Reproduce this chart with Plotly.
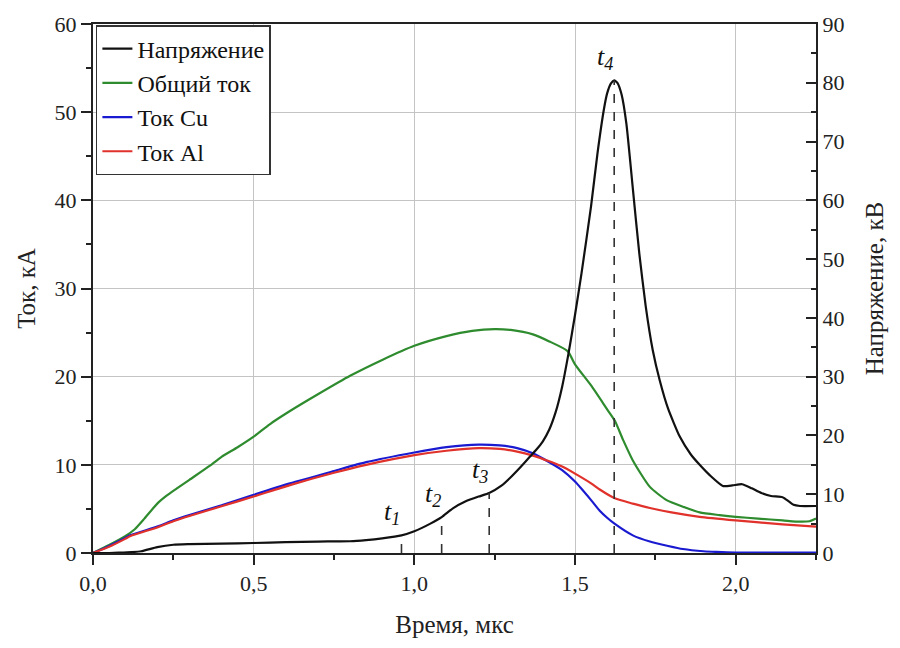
import plotly.graph_objects as go

# ---- data ----
time_voltage = [0, 0.05, 0.08, 0.12, 0.15, 0.2, 0.25, 0.3, 0.4, 0.5, 0.6, 0.7, 0.8, 0.85, 0.9,
                0.96, 1.0, 1.05, 1.085, 1.12, 1.16, 1.2, 1.233, 1.27, 1.3, 1.33, 1.36, 1.38,
                1.4, 1.42, 1.44, 1.46, 1.48, 1.5, 1.52, 1.55, 1.57, 1.59, 1.60, 1.612, 1.622,
                1.632, 1.645, 1.66, 1.68, 1.70, 1.72, 1.742, 1.764, 1.79, 1.826, 1.86, 1.888,
                1.92, 1.96, 1.99, 2.02, 2.05, 2.08, 2.11, 2.146, 2.165, 2.18, 2.2, 2.25]
voltage_kv = [0, 0, 0.05, 0.15, 0.3, 1.0, 1.4, 1.5, 1.6, 1.7, 1.85, 1.95, 2.0, 2.2, 2.5,
              3.0, 3.7, 5.0, 6.1, 7.6, 8.8, 9.6, 10.2, 11.4, 12.9, 14.6, 16.4, 17.6,
              19.0, 21.0, 24.0, 28.3, 34.0, 40.5, 47.5, 59.0, 68.0, 75.5, 78.2, 79.9, 80.4,
              80.0, 78.0, 73.0, 62.0, 51.0, 42.0, 34.5, 29.3, 24.5, 19.8, 16.8, 15.0,
              13.2, 11.4, 11.5, 11.7, 11.0, 10.2, 9.7, 9.5, 8.8, 8.2, 8.0, 8.0]

time_total = [0, 0.05, 0.1, 0.13, 0.16, 0.2, 0.229, 0.26, 0.3, 0.364, 0.4, 0.45, 0.5, 0.55,
              0.613, 0.7, 0.8, 0.9, 1.0, 1.1, 1.18, 1.25, 1.3, 1.369, 1.42, 1.477, 1.5,
              1.55, 1.6, 1.624, 1.65, 1.68, 1.733, 1.785, 1.84, 1.888, 1.95, 2.0, 2.07,
              2.146, 2.2, 2.23, 2.25]
current_total = [0, 0.9, 1.9, 2.7, 3.9, 5.6, 6.5, 7.3, 8.3, 9.9, 10.9, 12.0, 13.2, 14.6,
                 16.1, 18.0, 20.1, 21.9, 23.5, 24.6, 25.2, 25.4, 25.3, 24.8, 24.0, 22.9, 21.4,
                 19.0, 16.3, 15.0, 12.8, 10.5, 7.5, 6.0, 5.2, 4.6, 4.3, 4.1, 3.9,
                 3.7, 3.55, 3.6, 3.9]

time_cu = [0, 0.05, 0.1, 0.115, 0.2, 0.25, 0.3, 0.4, 0.5, 0.613, 0.75, 0.85, 1.0, 1.1, 1.2,
           1.266, 1.32, 1.369, 1.42, 1.46, 1.5, 1.55, 1.577, 1.6, 1.624, 1.68, 1.733, 1.79,
           1.836, 1.9, 1.94, 2.0, 2.25]
current_cu = [0, 0.8, 1.7, 2.0, 3.0, 3.7, 4.3, 5.4, 6.6, 7.9, 9.3, 10.3, 11.4, 12.0, 12.3,
              12.2, 11.9, 11.3, 10.3, 9.4, 8.1, 6.0, 4.8, 4.0, 3.3, 2.0, 1.3, 0.8,
              0.45, 0.2, 0.12, 0.05, 0.05]

time_al = [0, 0.05, 0.1, 0.115, 0.2, 0.25, 0.3, 0.4, 0.5, 0.613, 0.75, 0.85, 1.0, 1.1, 1.2,
           1.266, 1.32, 1.369, 1.42, 1.46, 1.5, 1.55, 1.577, 1.624, 1.68, 1.733, 1.8, 1.888,
           2.0, 2.146, 2.25]
current_al = [0, 0.7, 1.6, 1.9, 2.9, 3.6, 4.2, 5.3, 6.4, 7.7, 9.1, 10.0, 11.1, 11.6, 11.9,
              11.8, 11.5, 11.05, 10.4, 9.8, 9.0, 7.9, 7.2, 6.2, 5.6, 5.1, 4.6, 4.1,
              3.7, 3.25, 3.0]

marker_names = ["1", "2", "3", "4"]
marker_times = [0.96, 1.085, 1.233, 1.622]
marker_voltage = [3.0, 6.1, 10.2, 80.4]

series_names = ["Напряжение", "Общий ток", "Ток Cu", "Ток Al"]
x_tick_vals = [0, 0.5, 1.0, 1.5, 2.0]
x_tick_text = ["0,0", "0,5", "1,0", "1,5", "2,0"]

# ---- styling ----
FONT = "'Liberation Serif', 'Times New Roman', serif"
C_BLACK, C_GREEN, C_BLUE, C_RED = "#111111", "#2e8b2e", "#1a1ad0", "#e0312b"
AX = "#222222"
GRID = "#c4c4c4"

fig = go.Figure()

fig.add_trace(go.Scatter(x=time_voltage, y=voltage_kv, name=series_names[0], yaxis="y2",
                         mode="lines", line=dict(color=C_BLACK, width=2.2, shape="spline", smoothing=0.5),
                         legendgroup="a"))
fig.add_trace(go.Scatter(x=time_total, y=current_total, name=series_names[1],
                         mode="lines", line=dict(color=C_GREEN, width=2.2, shape="spline", smoothing=0.6),
                         legendgroup="b"))
fig.add_trace(go.Scatter(x=time_cu, y=current_cu, name=series_names[2],
                         mode="lines", line=dict(color=C_BLUE, width=2.2, shape="spline", smoothing=0.6),
                         legendgroup="c"))
fig.add_trace(go.Scatter(x=time_al, y=current_al, name=series_names[3],
                         mode="lines", line=dict(color=C_RED, width=2.2, shape="spline", smoothing=0.6),
                         legendgroup="d"))

# dashed markers t1..t4
for name, t, v in zip(marker_names, marker_times, marker_voltage):
    fig.add_trace(go.Scatter(x=[t, t], y=[0, v], yaxis="y2", mode="lines", showlegend=False,
                             hoverinfo="skip",
                             line=dict(color="#333333", width=1.6, dash="dash")))
    fig.add_annotation(x=t, y=v, xref="x", yref="y2", text=f"<i>t</i><sub><i>{name}</i></sub>",
                       showarrow=False, xshift=-9, yshift=22,
                       font=dict(family=FONT, size=26, color="#111111"))

fig.update_layout(
    width=900, height=648,
    margin=dict(l=93, r=84, t=22, b=95),
    paper_bgcolor="white", plot_bgcolor="white",
    separators=", ",
    font=dict(family=FONT, size=22, color="#222222"),
    showlegend=True,
    legend=dict(x=0.004, y=0.998, xanchor="left", yanchor="top",
                bgcolor="white", bordercolor="#333333", borderwidth=1.5,
                font=dict(family=FONT, size=24, color="#111111"),
                traceorder="grouped", tracegroupgap=0, itemwidth=30),
    xaxis=dict(range=[0, 2.25], tickvals=x_tick_vals, ticktext=x_tick_text,
               ticks="outside", ticklen=10, tickwidth=1.5, tickcolor=AX,
               minor=dict(dtick=0.25, tick0=0, ticks="outside", ticklen=5, tickwidth=1.5,
                          tickcolor=AX, showgrid=False),
               showline=True, linecolor=AX, linewidth=2, mirror=True,
               showgrid=True, gridcolor=GRID, gridwidth=1, zeroline=False,
               title=dict(text="Время, мкс", font=dict(family=FONT, size=25), standoff=20),
               tickfont=dict(family=FONT, size=22)),
    yaxis=dict(range=[0, 60], dtick=10, tick0=0,
               ticks="outside", ticklen=10, tickwidth=1.5, tickcolor=AX,
               minor=dict(dtick=5, tick0=0, ticks="outside", ticklen=5, tickwidth=1.5,
                          tickcolor=AX, showgrid=False),
               showline=True, linecolor=AX, linewidth=2,
               showgrid=True, gridcolor=GRID, gridwidth=1, zeroline=False,
               title=dict(text="Ток, кА", font=dict(family=FONT, size=25), standoff=12),
               tickfont=dict(family=FONT, size=22)),
    yaxis2=dict(range=[0, 90], dtick=10, tick0=0, overlaying="y", side="right",
                ticks="inside", ticklen=10, tickwidth=1.5, tickcolor=AX,
                minor=dict(dtick=5, tick0=0, ticks="inside", ticklen=5, tickwidth=1.5,
                           tickcolor=AX, showgrid=False),
                showline=True, linecolor=AX, linewidth=2,
                showgrid=False, zeroline=False,
                title=dict(text="Напряжение, кВ", font=dict(family=FONT, size=25), standoff=22),
                tickfont=dict(family=FONT, size=22)),
)

fig.write_html("out.html")
